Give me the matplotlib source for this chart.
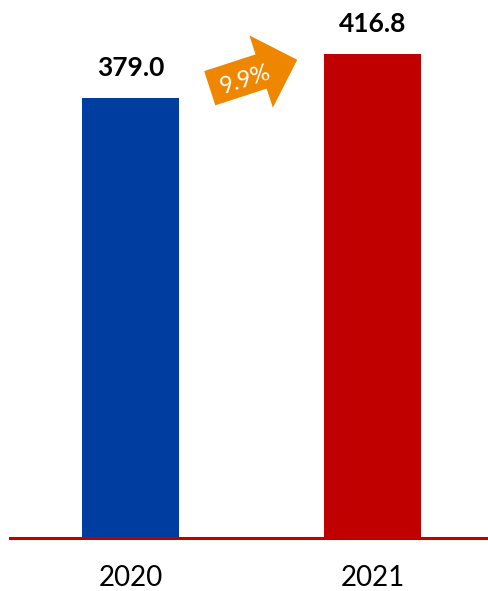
import matplotlib
matplotlib.use('Agg')
from matplotlib import pyplot as plt
from matplotlib.patches import Polygon
from matplotlib.transforms import Affine2D

years = ["2020", "2021"]
values = [379.0, 416.8]
growth = "9.9%"
bar_colors = ["#003DA0", "#C00000"]

plt.rcParams['font.family'] = ['Lato', 'DejaVu Sans']

fig = plt.figure(figsize=(4.89, 5.91), dpi=100)
ax = fig.add_axes([10/489, 53/591, 479/489, 538/591])

x = range(len(years))
ax.bar(x, values, width=0.40, color=bar_colors, zorder=2)
ax.set_xlim(-0.498, 1.481)
ax.set_ylim(0, 463.4)

# value labels
for xi, v in zip(x, values):
    ax.annotate(f"{v:.1f}", (xi, v), xytext=(0, 13), textcoords="offset points",
                ha="center", va="bottom", fontsize=19, fontweight="bold", color="black")

# axis line and year labels
ax.axhline(0, color="#C00000", lw=2.2, zorder=3, clip_on=False)
for xi, yr in zip(x, years):
    ax.annotate(yr, (xi, 0), xytext=(0, -29), textcoords="offset points",
                ha="center", va="center", fontsize=20, color="black")

for s in ax.spines.values():
    s.set_visible(False)
ax.set_xticks([])
ax.set_yticks([])

# growth arrow (pixel shape, rotated)
shape = [(-46, -18), (8, -18), (8, -38), (46, 0), (8, 38), (8, 18), (-46, 18)]
tr = Affine2D().rotate_deg(18).translate(253.5, 517)
fig.patches.append(Polygon(shape, closed=True, transform=tr, facecolor="#EE8600",
                           edgecolor="none", figure=fig))
fig.text(245/489, 511/591, growth, rotation=18, rotation_mode="anchor",
         ha="center", va="center", color="white", fontsize=17)

fig.savefig("out.png", dpi=100)
